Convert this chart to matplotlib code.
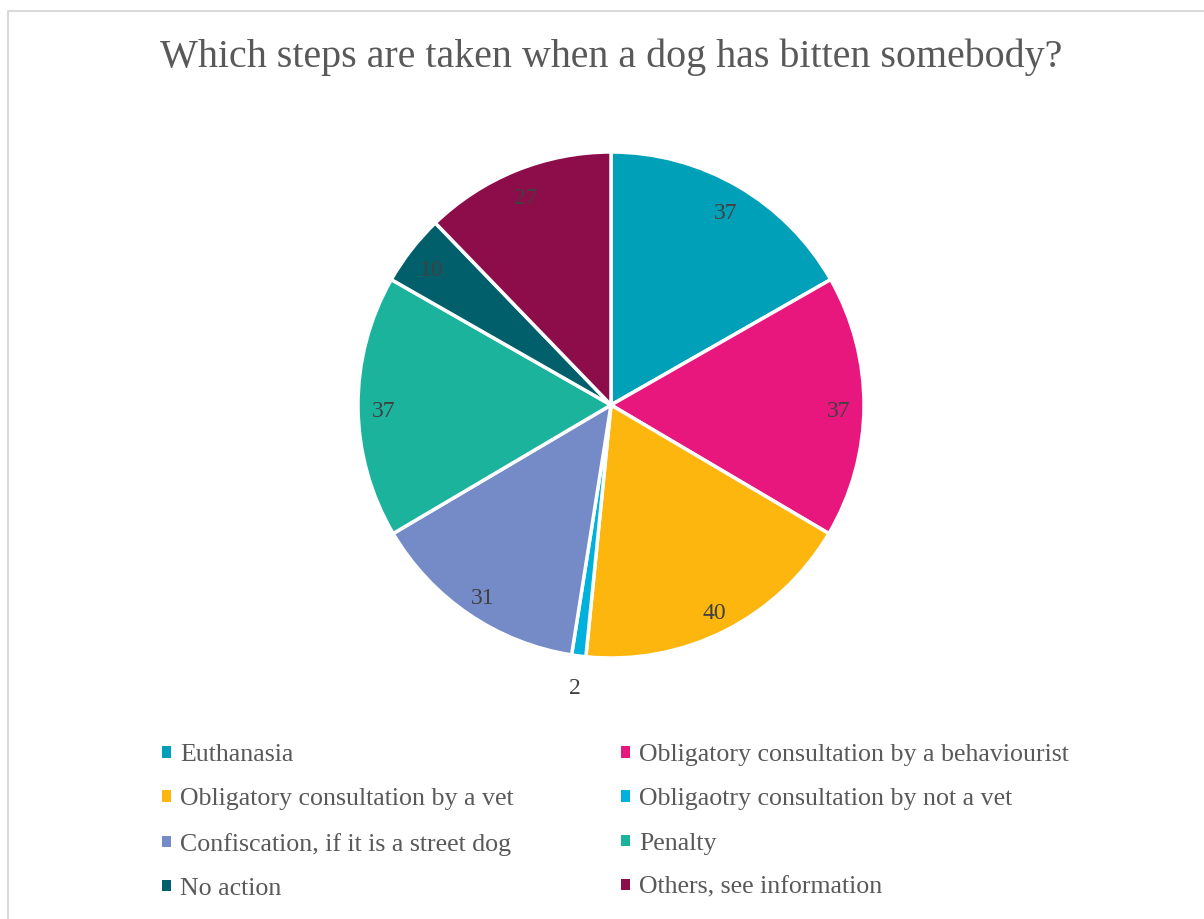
import numpy as np
import matplotlib.pyplot as plt
from matplotlib.lines import Line2D
from matplotlib.patches import Patch

plt.rcParams['font.family'] = ['Liberation Serif', 'DejaVu Serif']

labels = ['Euthanasia',
          'Obligatory consultation by a behaviourist',
          'Obligatory consultation by a vet',
          'Obligaotry consultation by not a vet',
          'Confiscation, if it is a street dog',
          'Penalty',
          'No action',
          'Others, see information']
counts = [37, 37, 40, 2, 31, 37, 10, 27]
colors = ['#00A0B9', '#E8177D', '#FDB60D', '#00B1DE',
          '#748BC8', '#1CB39D', '#015F6B', '#8C0D4A']

W, H = 1204, 919
fig = plt.figure(figsize=(W / 100, H / 100), dpi=100)

# chart area border: top and left edges
fig.lines.append(Line2D([8 / W, 8 / W, 1.0], [0.0, 1 - 11 / H, 1 - 11 / H],
                        transform=fig.transFigure, color='#D9D9D9', linewidth=1.5))

fig.text(611 / W, 1 - 57 / H, 'Which steps are taken when a dog has bitten somebody?',
         ha='center', va='center', fontsize=28.8, color='#595959')

cx, cy, r = 611, 405, 253
ax = fig.add_axes([(cx - r) / W, 1 - (cy + r) / H, 2 * r / W, 2 * r / H])
wedges, _ = ax.pie(counts, colors=colors, startangle=90, counterclock=False,
                   wedgeprops=dict(edgecolor='white', linewidth=2.5))
ax.set_xlim(-1, 1)
ax.set_ylim(-1, 1)
ax.set_aspect('equal')

# value labels inside the slices, small slice labelled outside
total = sum(counts)
start = 90.0
for v in counts:
    mid = np.deg2rad(start - v / total * 180)
    start -= v / total * 360
    dist = 1.11 if v < 5 else 0.9
    ax.text(dist * np.cos(mid), dist * np.sin(mid) - 0.02, str(v), ha='center', va='center',
            fontsize=17, color='#404040')

# legend filled row by row, plain square keys
order = [0, 2, 4, 6, 1, 3, 5, 7]
handles = [Patch(facecolor=colors[i], edgecolor='none') for i in order]
fig.legend(handles, [labels[i] for i in order],
           loc='upper left', bbox_to_anchor=(139 / W, 1 - 721 / H),
           ncol=2, frameon=False, fontsize=18.6, labelcolor='#595959',
           handlelength=0.32, handleheight=0.32, handletextpad=0.36,
           columnspacing=4.18, labelspacing=0.86)

fig.savefig('out.png', dpi=100, facecolor='white')
